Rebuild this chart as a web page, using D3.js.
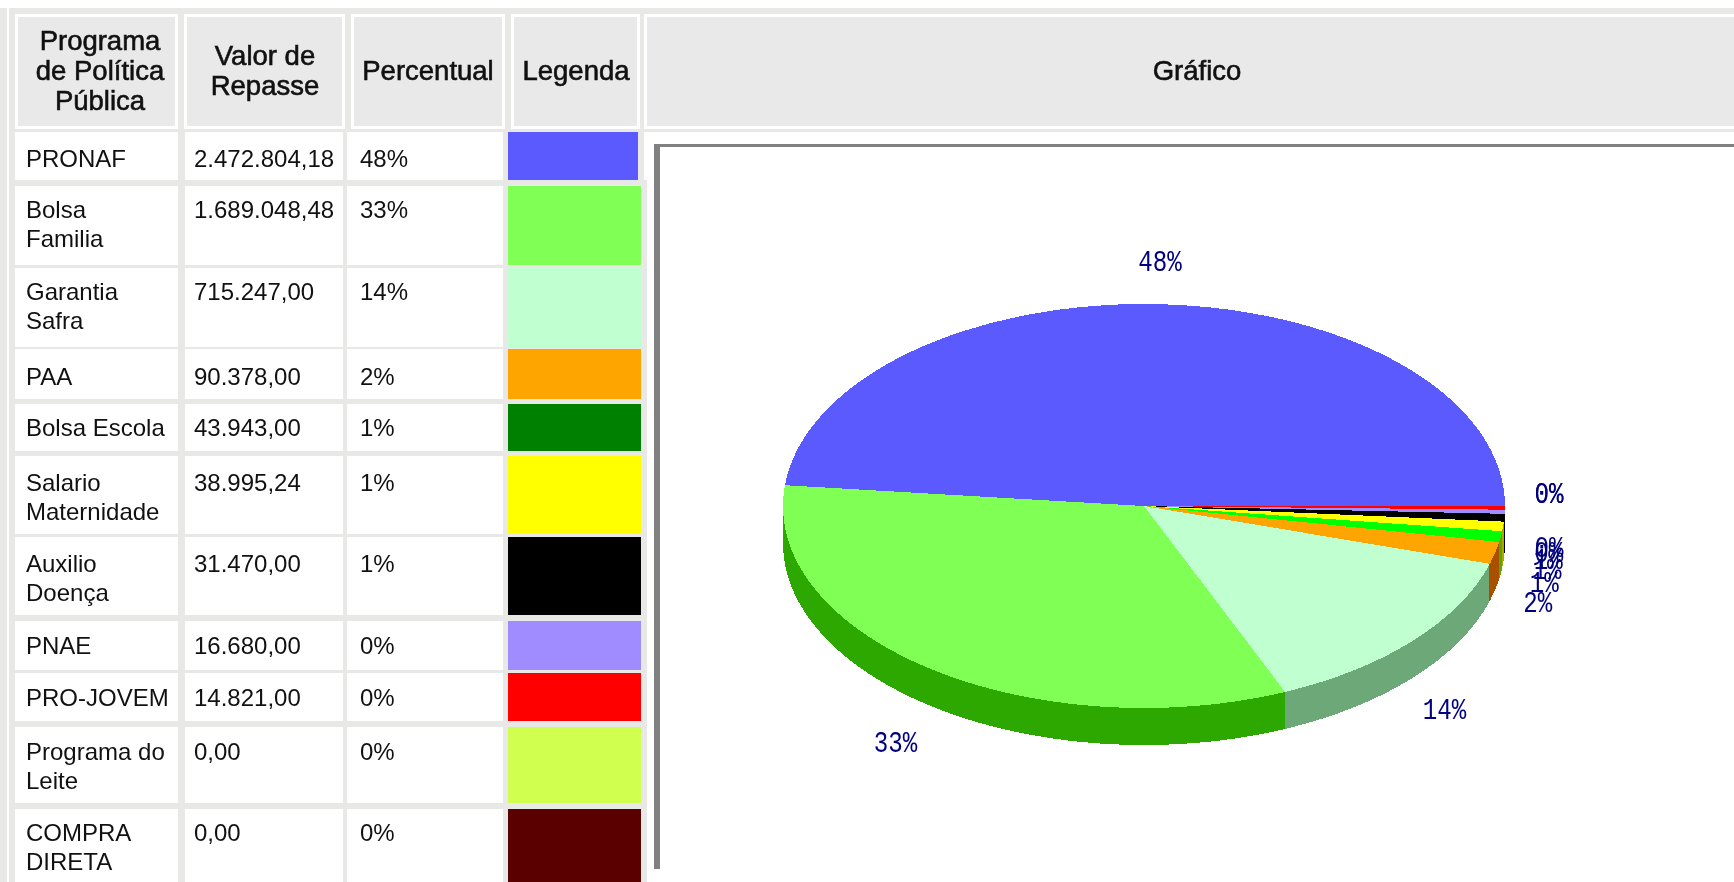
<!DOCTYPE html>
<html>
<head>
<meta charset="utf-8">
<script src="https://cdn.jsdelivr.net/npm/d3@7/dist/d3.min.js"></script>
<style>
html,body{margin:0;padding:0;background:#fff;overflow:hidden}
svg{display:block}
.soft{filter:blur(0.5px)}
</style>
</head>
<body>
<script>
// ---- data ----
const headers = [["Programa","de Política","Pública"],["Valor de","Repasse"],["Percentual"],["Legenda"],["Gráfico"]];
const programs = [["PRONAF"],["Bolsa","Familia"],["Garantia","Safra"],["PAA"],["Bolsa Escola"],["Salario","Maternidade"],["Auxilio","Doença"],["PNAE"],["PRO-JOVEM"],["Programa do","Leite"],["COMPRA","DIRETA"]];
const repasses = [2472804.18,1689048.48,715247,90378,43943,38995.24,31470,16680,14821,0,0];
const legendColors = ["#5a5aff","#80ff55","#c0ffcf","#ffa500","#008000","#ffff00","#000000","#a08cff","#ff0000","#d0ff50","#5a0000"];
const pieColors = ["#5a5aff","#80ff55","#c0ffcf","#ffa500","#00ff00","#ffff00","#000000","#a08cff","#ff0000","#d0ff50","#5a0000"];
const sideColors = ["#3c3ca8","#2ca800","#6ca878","#a85000","#5ca800","#a8a800","#000000","#6a5ca8","#a80000","#88a834","#3c0000"];

// ---- layout ----
const W = 1734, H = 882;
const rowTops = [132,186,268,349,404,456,537,621,673,727,809];
const rowBottoms = [180,265,347,399,451,534,615,670,721,803,890];
const firstLineY = [159,210,292,377,428,483,564,646,698,752,833];
const lineGap = 29;
const dataCols = [[15,178],[185,343],[347,503]];
const legendX = [508,641];
const headCells = [[15,178],[184,345],[351,505],[511,640],[644,W+5]];
const headCenters = [100,265,428,576,1197];
const headMid = 70, headGap = 30;
const textFont = "'Liberation Sans',Arial,sans-serif";

const svg = d3.select("body").append("svg").attr("width",W).attr("height",H).attr("viewBox",`0 0 ${W} ${H}`);
const gray = "#e8e8e6";
svg.append("rect").attr("width",W).attr("height",H).attr("fill","#fff");
svg.append("rect").attr("y",8).attr("width",W).attr("height",H-8).attr("fill",gray);
svg.append("rect").attr("x",7).attr("y",8).attr("width",2).attr("height",H-8).attr("fill","#fff");

// header cells
svg.selectAll(".ho").data(headCells).join("rect").attr("x",d=>d[0]).attr("y",14).attr("width",d=>d[1]-d[0]).attr("height",115).attr("fill","#fff");
svg.selectAll(".hi").data(headCells).join("rect").attr("x",d=>d[0]+3).attr("y",17).attr("width",d=>d[1]-d[0]-6).attr("height",109).attr("fill","#e9e9e9");

// chart cell
svg.append("rect").attr("x",644).attr("y",132).attr("width",W-644).attr("height",48).attr("fill","#fff");
svg.append("rect").attr("x",647).attr("y",180).attr("width",W-647).attr("height",H-180).attr("fill","#fff");

// data cells + legend swatches
const rows = programs.map((p,i)=>({i,p,v:repasses[i]}));
dataCols.forEach(c=>{
  svg.append("g").selectAll("rect").data(rows).join("rect")
    .attr("x",c[0]).attr("width",c[1]-c[0])
    .attr("y",d=>rowTops[d.i]).attr("height",d=>rowBottoms[d.i]-rowTops[d.i]).attr("fill","#fff");
});
svg.append("g").selectAll("rect").data(rows).join("rect")
  .attr("x",legendX[0]).attr("width",d=>d.i===0?legendX[1]-legendX[0]-3:legendX[1]-legendX[0])
  .attr("y",d=>rowTops[d.i]).attr("height",d=>rowBottoms[d.i]-rowTops[d.i]).attr("fill",d=>legendColors[d.i]);

// text
const txt = svg.append("g").attr("class","soft").attr("font-family",textFont).attr("fill","#111");
headers.forEach((lines,c)=>{
  lines.forEach((l,k)=>{
    txt.append("text").attr("x",headCenters[c])
      .attr("y",headMid+(k-(lines.length-1)/2)*headGap)
      .attr("dy","0.35em").attr("text-anchor","middle").attr("font-size",27.5)
      .attr("stroke","#111").attr("stroke-width",0.6).text(l);
  });
});
const locale = d3.formatLocale({decimal:",",thousands:".",grouping:[3],currency:["",""]});
const money = locale.format(",.2f");
const total = d3.sum(repasses);
rows.forEach(r=>{
  r.p.forEach((l,k)=>{
    txt.append("text").attr("x",26).attr("y",firstLineY[r.i]+k*lineGap).attr("dy","0.35em").attr("font-size",24).text(l);
  });
  txt.append("text").attr("x",194).attr("y",firstLineY[r.i]).attr("dy","0.35em").attr("font-size",24).text(money(r.v));
  txt.append("text").attr("x",360).attr("y",firstLineY[r.i]).attr("dy","0.35em").attr("font-size",24).text(Math.round(r.v/total*100)+"%");
});

// frame of the picture
svg.append("rect").attr("x",654).attr("y",144).attr("width",6).attr("height",725).attr("fill","#808080");
svg.append("rect").attr("x",654).attr("y",144).attr("width",W-654).attr("height",3).attr("fill","#808080");

// pie
const cx = 1144, cy = 506, rx = 361, ry = 202, depth = 37;
const pie = d3.pie().sort(null).value(d=>d.v).startAngle(Math.PI/2).endAngle(Math.PI/2-2*Math.PI);
const arcs = pie(rows);
const arc = d3.arc().innerRadius(0).outerRadius(rx);
const slices = svg.append("g").attr("shape-rendering","crispEdges");
d3.range(depth,0,-1).forEach(off=>{
  slices.append("g").attr("transform",`translate(${cx},${cy+off}) scale(1,${ry/rx})`)
    .selectAll("path").data(arcs).join("path").attr("d",arc).attr("fill",d=>sideColors[d.data.i]);
});
slices.append("g").attr("transform",`translate(${cx},${cy}) scale(1,${ry/rx})`)
  .selectAll("path").data(arcs).join("path").attr("d",arc).attr("fill",d=>pieColors[d.data.i]);

// labels
const lblX = 410, lblUp = 232, lblUpC = -14, lblDown = 246, lblDownC = 38, lblShift = -5;
const labelPos = d=>{
  const a = (d.startAngle+d.endAngle)/2;       // d3: 0 = north, clockwise
  const c = Math.sin(a), s = -Math.cos(a);     // s > 0 = below centre in screen coords
  const below = d.value>0 && s>0;
  return [cx+lblShift+c*lblX, cy + (below ? lblDownC+s*lblDown : lblUpC+s*lblUp)];
};
svg.append("g").attr("class","soft").selectAll("text").data(arcs).join("text")
  .attr("x",d=>labelPos(d)[0]).attr("y",d=>labelPos(d)[1]).attr("dy","0.35em")
  .attr("text-anchor","middle").attr("font-family","'Liberation Mono',monospace").attr("font-size",30)
  .attr("fill","#000080")
  .attr("textLength",d=>(Math.round(d.value/total*100)+"%").length*14.5).attr("lengthAdjust","spacingAndGlyphs")
  .text(d=>Math.round(d.value/total*100)+"%");
</script>
</body>
</html>
